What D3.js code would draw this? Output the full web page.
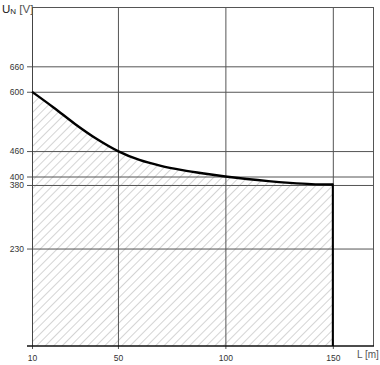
<!DOCTYPE html>
<html>
<head>
<meta charset="utf-8">
<script src="https://cdn.jsdelivr.net/npm/d3@7"></script>
<style>
  body { margin: 0; background: #fff; }
  svg { display: block; font-family: "Liberation Sans", Arial, sans-serif; }
</style>
</head>
<body>
<svg id="chart" width="380" height="365"></svg>
<script>
// cable length L [m] and max voltage U_N [V]
var lengths = [10, 20, 30, 40, 50, 60, 70, 80, 90, 100, 110, 120, 130, 140, 150];
var voltages = [600, 563, 524, 489, 460, 439, 425, 415, 407, 400, 394, 389, 385, 382, 381];
var xTicks = [10, 50, 100, 150];
var yTicks = [230, 380, 400, 460, 600, 660];

var data = lengths.map(function (d, i) {
    return { L: d, U: voltages[i] };
});

var svg = d3.select("#chart");
var plotLeft = 32, plotRight = 373, plotTop = 7, plotBottom = 346;

var xScale = d3.scaleLinear()
    .domain([10, 168.7])
    .range([plotLeft, plotRight]);
var yScale = d3.scaleLinear()
    .domain([0, 800])
    .range([plotBottom, plotTop]);

// hatch pattern
var defs = svg.append("defs");
defs.append("pattern")
    .attr("id", "hatch")
    .attr("patternUnits", "userSpaceOnUse")
    .attr("width", 6)
    .attr("height", 6)
    .attr("patternTransform", "rotate(45)")
    .append("line")
    .attr("x1", 0).attr("y1", 0)
    .attr("x2", 0).attr("y2", 6)
    .attr("stroke", "#aaa")
    .attr("stroke-width", 1);

var curve = d3.curveMonotoneX;

svg.append("path")
    .datum(data)
    .attr("fill", "url(#hatch)")
    .attr("d", d3.area()
        .x(function (d) { return xScale(d.L); })
        .y0(yScale(0))
        .y1(function (d) { return yScale(d.U); })
        .curve(curve));

// horizontal grid + y ticks
var yAxis = d3.axisLeft(yScale)
    .tickValues(yTicks)
    .tickSize(-(plotRight - plotLeft + 5))
    .tickPadding(3)
    .tickFormat(d3.format("d"));
var gy = svg.append("g")
    .attr("transform", "translate(" + (plotLeft - 5) + ",0)")
    .call(yAxis);
gy.select(".domain").remove();
gy.selectAll(".tick line")
    .attr("stroke", "#555")
    .attr("stroke-width", 1);
gy.selectAll(".tick text")
    .attr("fill", "#333")
    .attr("font-size", "8.5px")
    .attr("font-family", "Liberation Sans, Arial, sans-serif");

// vertical grid + x ticks
var xAxis = d3.axisBottom(xScale)
    .tickValues(xTicks)
    .tickSize(-(plotBottom - plotTop) - 3)
    .tickPadding(6)
    .tickFormat(d3.format("d"));
var gx = svg.append("g")
    .attr("transform", "translate(0," + (plotBottom + 3) + ")")
    .call(xAxis);
gx.select(".domain").remove();
gx.selectAll(".tick line")
    .attr("stroke", "#555")
    .attr("stroke-width", 1);
gx.selectAll(".tick text")
    .attr("fill", "#333")
    .attr("font-size", "8.5px")
    .attr("font-family", "Liberation Sans, Arial, sans-serif");

// frame
svg.append("line")
    .attr("x1", plotLeft).attr("x2", plotRight)
    .attr("y1", plotTop + 0.5).attr("y2", plotTop + 0.5)
    .attr("stroke", "#555");
svg.append("line")
    .attr("x1", plotRight + 0.5).attr("x2", plotRight + 0.5)
    .attr("y1", plotTop).attr("y2", plotBottom)
    .attr("stroke", "#555");
svg.append("line")
    .attr("x1", plotLeft + 0.5).attr("x2", plotLeft + 0.5)
    .attr("y1", plotTop).attr("y2", plotBottom)
    .attr("stroke", "#444");
svg.append("line")
    .attr("x1", plotLeft - 5).attr("x2", plotRight + 1)
    .attr("y1", plotBottom).attr("y2", plotBottom)
    .attr("stroke", "#111")
    .attr("stroke-width", 1.6);

// curve and drop line at the end
svg.append("path")
    .datum(data)
    .attr("fill", "none")
    .attr("stroke", "#000")
    .attr("stroke-width", 2.4)
    .attr("d", d3.line()
        .x(function (d) { return xScale(d.L); })
        .y(function (d) { return yScale(d.U); })
        .curve(curve));

var last = data[data.length - 1];
svg.append("line")
    .attr("x1", xScale(last.L)).attr("x2", xScale(last.L))
    .attr("y1", yScale(last.U) - 1).attr("y2", plotBottom)
    .attr("stroke", "#000")
    .attr("stroke-width", 2);

// axis titles
var yTitle = svg.append("text")
    .attr("x", 2)
    .attr("y", 13)
    .attr("fill", "#222")
    .attr("font-size", "11.5px");
yTitle.append("tspan").text("U");
yTitle.append("tspan").attr("font-size", "8px").attr("dy", 1).text("N");
yTitle.append("tspan").attr("dy", -1).attr("fill", "#555").text(" [V]");

svg.append("text")
    .attr("x", 357)
    .attr("y", 358)
    .attr("fill", "#555")
    .attr("font-size", "10px")
    .text("L [m]");
</script>
</body>
</html>
